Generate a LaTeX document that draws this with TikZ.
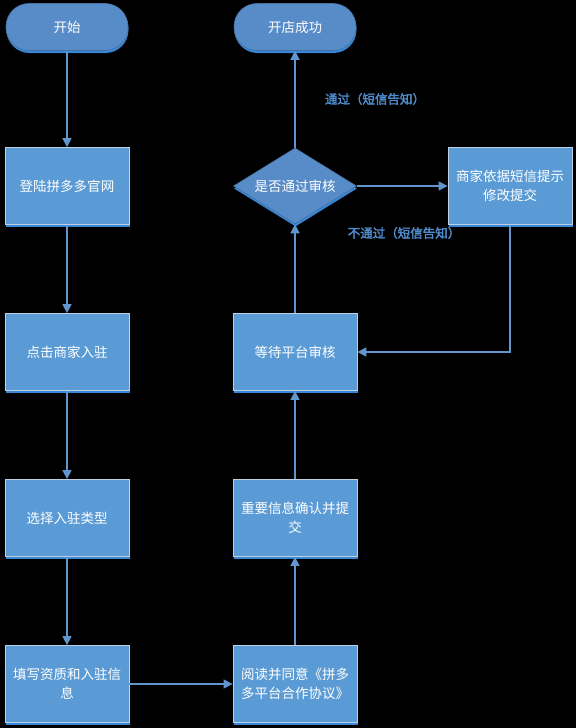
\documentclass[tikz,border=0pt]{standalone}
\usepackage{fontspec}
\newfontfamily\cjk{Noto Sans CJK SC}
\newfontfamily\cjkbold[FakeBold=2.5]{Noto Sans CJK SC}
\usetikzlibrary{arrows.meta,shapes,positioning,shadows}
\definecolor{boxblue}{RGB}{91,155,213}
\definecolor{pillblue}{RGB}{88,140,200}
\definecolor{edgeblue}{RGB}{190,208,228}
\definecolor{shadeblue}{RGB}{55,135,215}
\definecolor{lineblue}{RGB}{96,150,205}
\definecolor{labelblue}{RGB}{80,140,205}

\begin{document}
\begin{tikzpicture}[x=1pt,y=1pt,on grid]
	\cjk
	\newcommand\dy{166pt}
	\newcommand\dx{228pt}
	\tikzset{
		every node/.style = {font=\cjk\fontsize{13.5pt}{19pt}\selectfont, text=white},
		stepbox/.style = {
			rectangle, fill=boxblue, draw=edgeblue, line width=0.8pt,
			minimum width=124pt, minimum height=77pt, align=center,
			drop shadow={shadow xshift=0.5pt, shadow yshift=-2.5pt, fill=shadeblue, opacity=1},
		},
		pill/.style = {
			rectangle, rounded corners=23pt, fill=pillblue, draw=pillblue!80!black, line width=0.6pt,
			minimum width=122pt, minimum height=47pt,
			drop shadow={shadow xshift=0.5pt, shadow yshift=-2.5pt, fill=shadeblue, opacity=1},
		},
		check/.style = {
			diamond, aspect=1.6, fill=pillblue, draw=pillblue!80!black, line width=0.6pt,
			minimum width=123pt, minimum height=76pt, inner sep=0pt,
			drop shadow={shadow xshift=0.5pt, shadow yshift=-2.5pt, fill=shadeblue, opacity=1},
		},
		flow/.style = {draw=lineblue, line width=1.4pt, -{Triangle[length=9pt, width=9pt]}},
		note/.style = {font=\cjkbold\fontsize{12.5pt}{15pt}\selectfont, text=labelblue},
	}
	\useasboundingbox[fill=black] (0,0) rectangle (576,-728);
	% left column
	\node[pill] (start) at (67,-27) {开始};
	\node[stepbox, below=159pt of start] (login) {登陆拼多多官网};
	\node[stepbox, below=\dy of login] (enter) {点击商家入驻};
	\node[stepbox, below=\dy of enter] (type) {选择入驻类型};
	\node[stepbox, below=\dy of type] (fill) {填写资质和入驻信\\息};
	% right column
	\node[stepbox, right=\dx of fill] (read) {阅读并同意《拼多\\多平台合作协议》};
	\node[stepbox, above=\dy of read] (confirm) {重要信息确认并提\\交};
	\node[stepbox, above=\dy of confirm] (wait) {等待平台审核};
	\node[check, above=166pt of wait] (pass) {是否通过审核};
	\node[pill, above=159pt of pass] (done) {开店成功};
	\node[stepbox, right=215pt of pass] (modify) {商家依据短信提示\\修改提交};
	% labels
	\node[note, above right=87pt and 80pt of pass] (yes) {通过（短信告知）};
	\node[note, below right=47pt and 109pt of pass] (no) {不通过（短信告知）};

	\draw[flow] (start) -- (login);
	\draw[flow] (login) -- (enter);
	\draw[flow] (enter) -- (type);
	\draw[flow] (type) -- (fill);
	\draw[flow] (fill) -- (read);
	\draw[flow] (read) -- (confirm);
	\draw[flow] (confirm) -- (wait);
	\draw[flow] (wait) -- (pass);
	\draw[flow] (pass) -- (done);
	\draw[flow] (pass) -- (modify);
	\draw[flow] (modify.south) |- (wait.east);
\end{tikzpicture}
\end{document}
